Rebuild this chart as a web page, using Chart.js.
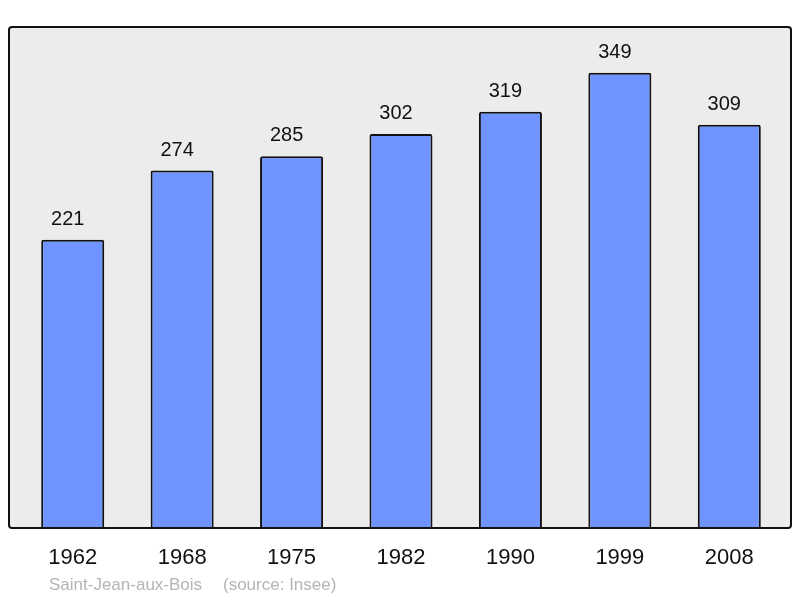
<!DOCTYPE html>
<html>
<head>
<meta charset="utf-8">
<script src="https://cdn.jsdelivr.net/npm/chart.js@4/dist/chart.umd.min.js"></script>
<style>
  body { margin: 0; background: #ffffff; }
  #wrap { width: 800px; height: 598px; }
</style>
</head>
<body>
<div id="wrap"><canvas id="chart-bar" width="800" height="598"></canvas></div>
<script>
var years = ["1962", "1968", "1975", "1982", "1990", "1999", "2008"];
var population = [221, 274, 285, 302, 319, 349, 309];
var town_name = "Saint-Jean-aux-Bois";
var source_text = "(source: Insee)";

var FONT = "'Liberation Sans', Arial, sans-serif";

// grey frame behind the bars, black outline on top of them
var framePlugin = {
  id: "frame",
  beforeDatasetsDraw: function(chart) {
    var a = chart.chartArea;
    var ctx = chart.ctx;
    ctx.save();
    ctx.beginPath();
    ctx.roundRect(a.left - 9, a.top, (a.right + 7) - (a.left - 9), a.bottom - a.top, 3);
    ctx.fillStyle = "#ececec";
    ctx.fill();
    ctx.restore();
  },
  afterDatasetsDraw: function(chart) {
    var a = chart.chartArea;
    var ctx = chart.ctx;
    ctx.save();
    ctx.beginPath();
    ctx.roundRect(a.left - 9, a.top, (a.right + 7) - (a.left - 9), a.bottom - a.top, 3);
    ctx.lineWidth = 2;
    ctx.strokeStyle = "#111111";
    ctx.stroke();

    // value above each bar
    var meta = chart.getDatasetMeta(0);
    ctx.fillStyle = "#111111";
    ctx.font = "20px " + FONT;
    ctx.textAlign = "center";
    ctx.textBaseline = "alphabetic";
    meta.data.forEach(function(bar, i) {
      ctx.fillText(String(population[i]), bar.x - 5, bar.y - 15);
    });

    // footer
    ctx.fillStyle = "#b4b4b4";
    ctx.font = "17px " + FONT;
    ctx.textAlign = "left";
    ctx.fillText(town_name, 49, 590);
    ctx.fillText(source_text, 223, 590);
    ctx.restore();
  }
};

var ctx = document.getElementById("chart-bar").getContext("2d");

new Chart(ctx, {
  type: "bar",
  data: {
    labels: years,
    datasets: [{
      label: "Population",
      data: population,
      backgroundColor: "#7094ff",
      borderColor: "#111111",
      borderWidth: 2,
      borderRadius: 2,
      borderSkipped: "bottom",
      barPercentage: 0.576,
      categoryPercentage: 1
    }]
  },
  options: {
    responsive: false,
    animation: false,
    layout: {
      padding: { left: 18, right: 16, top: 27, bottom: 9.6 }
    },
    plugins: {
      legend: { display: false },
      tooltip: { enabled: false }
    },
    scales: {
      x: {
        grid: { display: false, drawTicks: false },
        border: { display: false },
        ticks: {
          color: "#111111",
          padding: 17,
          font: { size: 22, family: FONT }
        }
      },
      y: {
        display: false,
        min: 0,
        max: 384
      }
    }
  },
  plugins: [framePlugin]
});
</script>
</body>
</html>
